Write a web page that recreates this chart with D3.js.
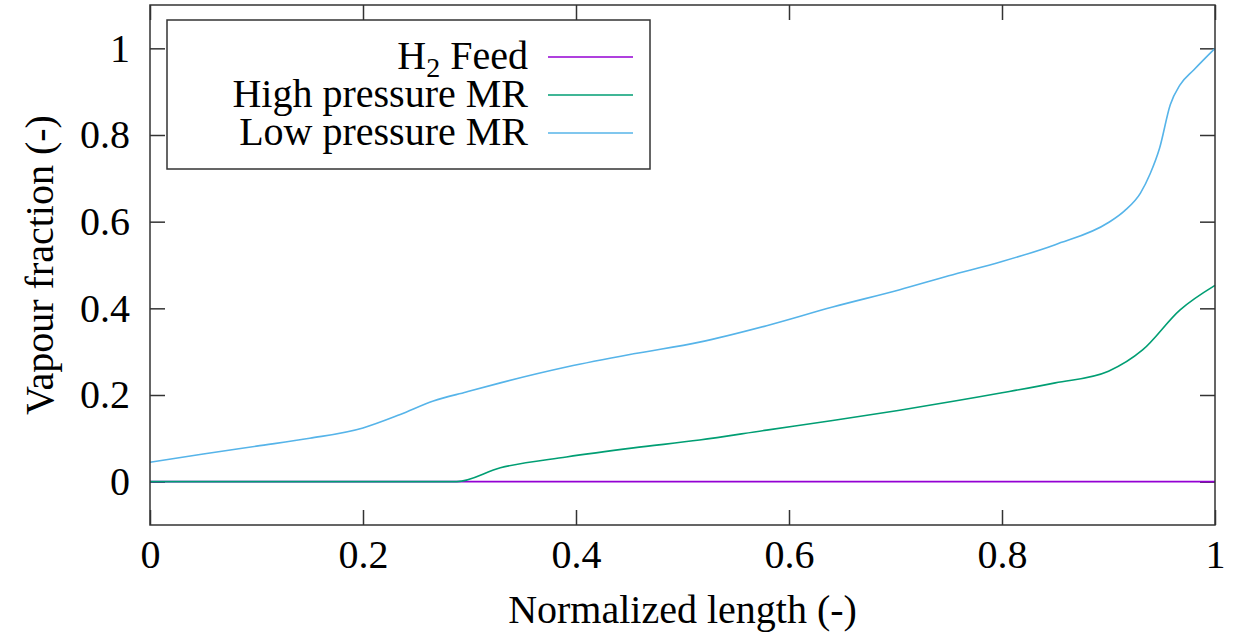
<!DOCTYPE html>
<html>
<head>
<meta charset="utf-8">
<script src="https://cdn.jsdelivr.net/npm/d3@7"></script>
<style>
  body { margin: 0; background: #fff; }
  svg text { font-family: "Liberation Serif", "Times New Roman", serif; fill: #000; }
</style>
</head>
<body>
<svg id="chart" width="1238" height="636"></svg>
<script>
const xTicks = [0, 0.2, 0.4, 0.6, 0.8, 1];
const yTicks = [0, 0.2, 0.4, 0.6, 0.8, 1];

const seriesNames = ['H2 Feed', 'High pressure MR', 'Low pressure MR'];
const seriesColors = ['#9400d3', '#009e73', '#56b4e9'];

const feedX = [0, 1];
const feedY = [0, 0];

const highX = [0, 0.288, 0.329, 0.391, 0.454, 0.516, 0.579, 0.641, 0.704, 0.8, 0.85, 0.9, 0.932, 0.967, 1.0];
const highY = [0, 0, 0.032, 0.057, 0.078, 0.096, 0.119, 0.141, 0.165, 0.205, 0.228, 0.255, 0.304, 0.396, 0.453];

const lowX = [0, 0.05, 0.1, 0.15, 0.2, 0.235, 0.266, 0.297, 0.329, 0.392, 0.454, 0.516, 0.579, 0.641,
    0.704, 0.75, 0.8, 0.85, 0.9, 0.915, 0.93, 0.939, 0.948, 0.958, 0.967, 0.98, 1.0];
const lowY = [0.045, 0.064, 0.082, 0.100, 0.124, 0.155, 0.186, 0.207, 0.228, 0.265, 0.295, 0.322, 0.360, 0.403,
    0.443, 0.475, 0.508, 0.547, 0.598, 0.625, 0.666, 0.710, 0.77, 0.87, 0.915, 0.950, 1.0];

const margin = {left: 150, right: 23, top: 5, bottom: 111};
const width = 1238, height = 636;
const tickLen = 15;

const svg = d3.select('#chart');

const x = d3.scaleLinear()
    .domain([0, 1])
    .range([margin.left, width - margin.right]);
const y = d3.scaleLinear()
    .domain([-0.1, 1.1])
    .range([height - margin.bottom, margin.top]);

const plotW = x.range()[1] - x.range()[0];
const plotH = y.range()[0] - y.range()[1];

// axes with inward ticks (gnuplot style), mirrored on top/right
const styleAxis = g => {
    g.select('.domain').remove();
    g.selectAll('.tick line').attr('stroke', '#333').attr('stroke-width', 1.5);
    g.selectAll('.tick text').attr('font-size', 40).attr('fill', '#000');
};

svg.append('g')
    .attr('transform', `translate(0,${y.range()[0]})`)
    .call(d3.axisBottom(x).tickValues(xTicks).tickFormat(d3.format('~g'))
        .tickSizeInner(-tickLen).tickSizeOuter(0).tickPadding(15))
    .call(styleAxis);

svg.append('g')
    .attr('transform', `translate(0,${y.range()[1]})`)
    .call(d3.axisTop(x).tickValues(xTicks).tickFormat('')
        .tickSizeInner(-tickLen).tickSizeOuter(0))
    .call(styleAxis);

svg.append('g')
    .attr('transform', `translate(${x.range()[0]},0)`)
    .call(d3.axisLeft(y).tickValues(yTicks).tickFormat(d3.format('~g'))
        .tickSizeInner(-tickLen).tickSizeOuter(0).tickPadding(20))
    .call(styleAxis);

svg.append('g')
    .attr('transform', `translate(${x.range()[1]},0)`)
    .call(d3.axisRight(y).tickValues(yTicks).tickFormat('')
        .tickSizeInner(-tickLen).tickSizeOuter(0))
    .call(styleAxis);

// lines
const line = d3.line()
    .x(d => x(d[0]))
    .y(d => y(d[1]))
    .curve(d3.curveMonotoneX);

const series = [
    d3.zip(feedX, feedY),
    d3.zip(highX, highY),
    d3.zip(lowX, lowY)
];

svg.append('g')
    .selectAll('path')
    .data(series)
    .join('path')
    .attr('d', line)
    .attr('fill', 'none')
    .attr('stroke', (d, i) => seriesColors[i])
    .attr('stroke-width', 1.6);

// frame
svg.append('rect')
    .attr('x', x.range()[0])
    .attr('y', y.range()[1])
    .attr('width', plotW)
    .attr('height', plotH)
    .attr('fill', 'none')
    .attr('stroke', '#333')
    .attr('stroke-width', 1.5);

// legend
const legend = svg.append('g');
legend.append('rect')
    .attr('x', 167).attr('y', 20)
    .attr('width', 483).attr('height', 149)
    .attr('fill', '#fff')
    .attr('stroke', '#333')
    .attr('stroke-width', 1.5);

const rowY = [57, 95, 133];
seriesNames.forEach((name, i) => {
    const t = legend.append('text')
        .attr('x', 528)
        .attr('y', rowY[i] + 12)
        .attr('text-anchor', 'end')
        .attr('font-size', 40);
    if (i === 0) {
        t.append('tspan').text('H');
        t.append('tspan').attr('font-size', 28).attr('dy', 8).text('2');
        t.append('tspan').attr('dy', -8).text(' Feed');
    } else {
        t.text(name);
    }
    legend.append('line')
        .attr('x1', 548).attr('x2', 633)
        .attr('y1', rowY[i]).attr('y2', rowY[i])
        .attr('stroke', seriesColors[i])
        .attr('stroke-width', 1.6);
});

// axis titles
svg.append('text')
    .attr('x', (x.range()[0] + x.range()[1]) / 2)
    .attr('y', 623)
    .attr('text-anchor', 'middle')
    .attr('font-size', 40)
    .text('Normalized length (-)');

svg.append('text')
    .attr('transform', `translate(53,${(y.range()[0] + y.range()[1]) / 2}) rotate(-90)`)
    .attr('text-anchor', 'middle')
    .attr('font-size', 40)
    .text('Vapour fraction (-)');
</script>
</body>
</html>
